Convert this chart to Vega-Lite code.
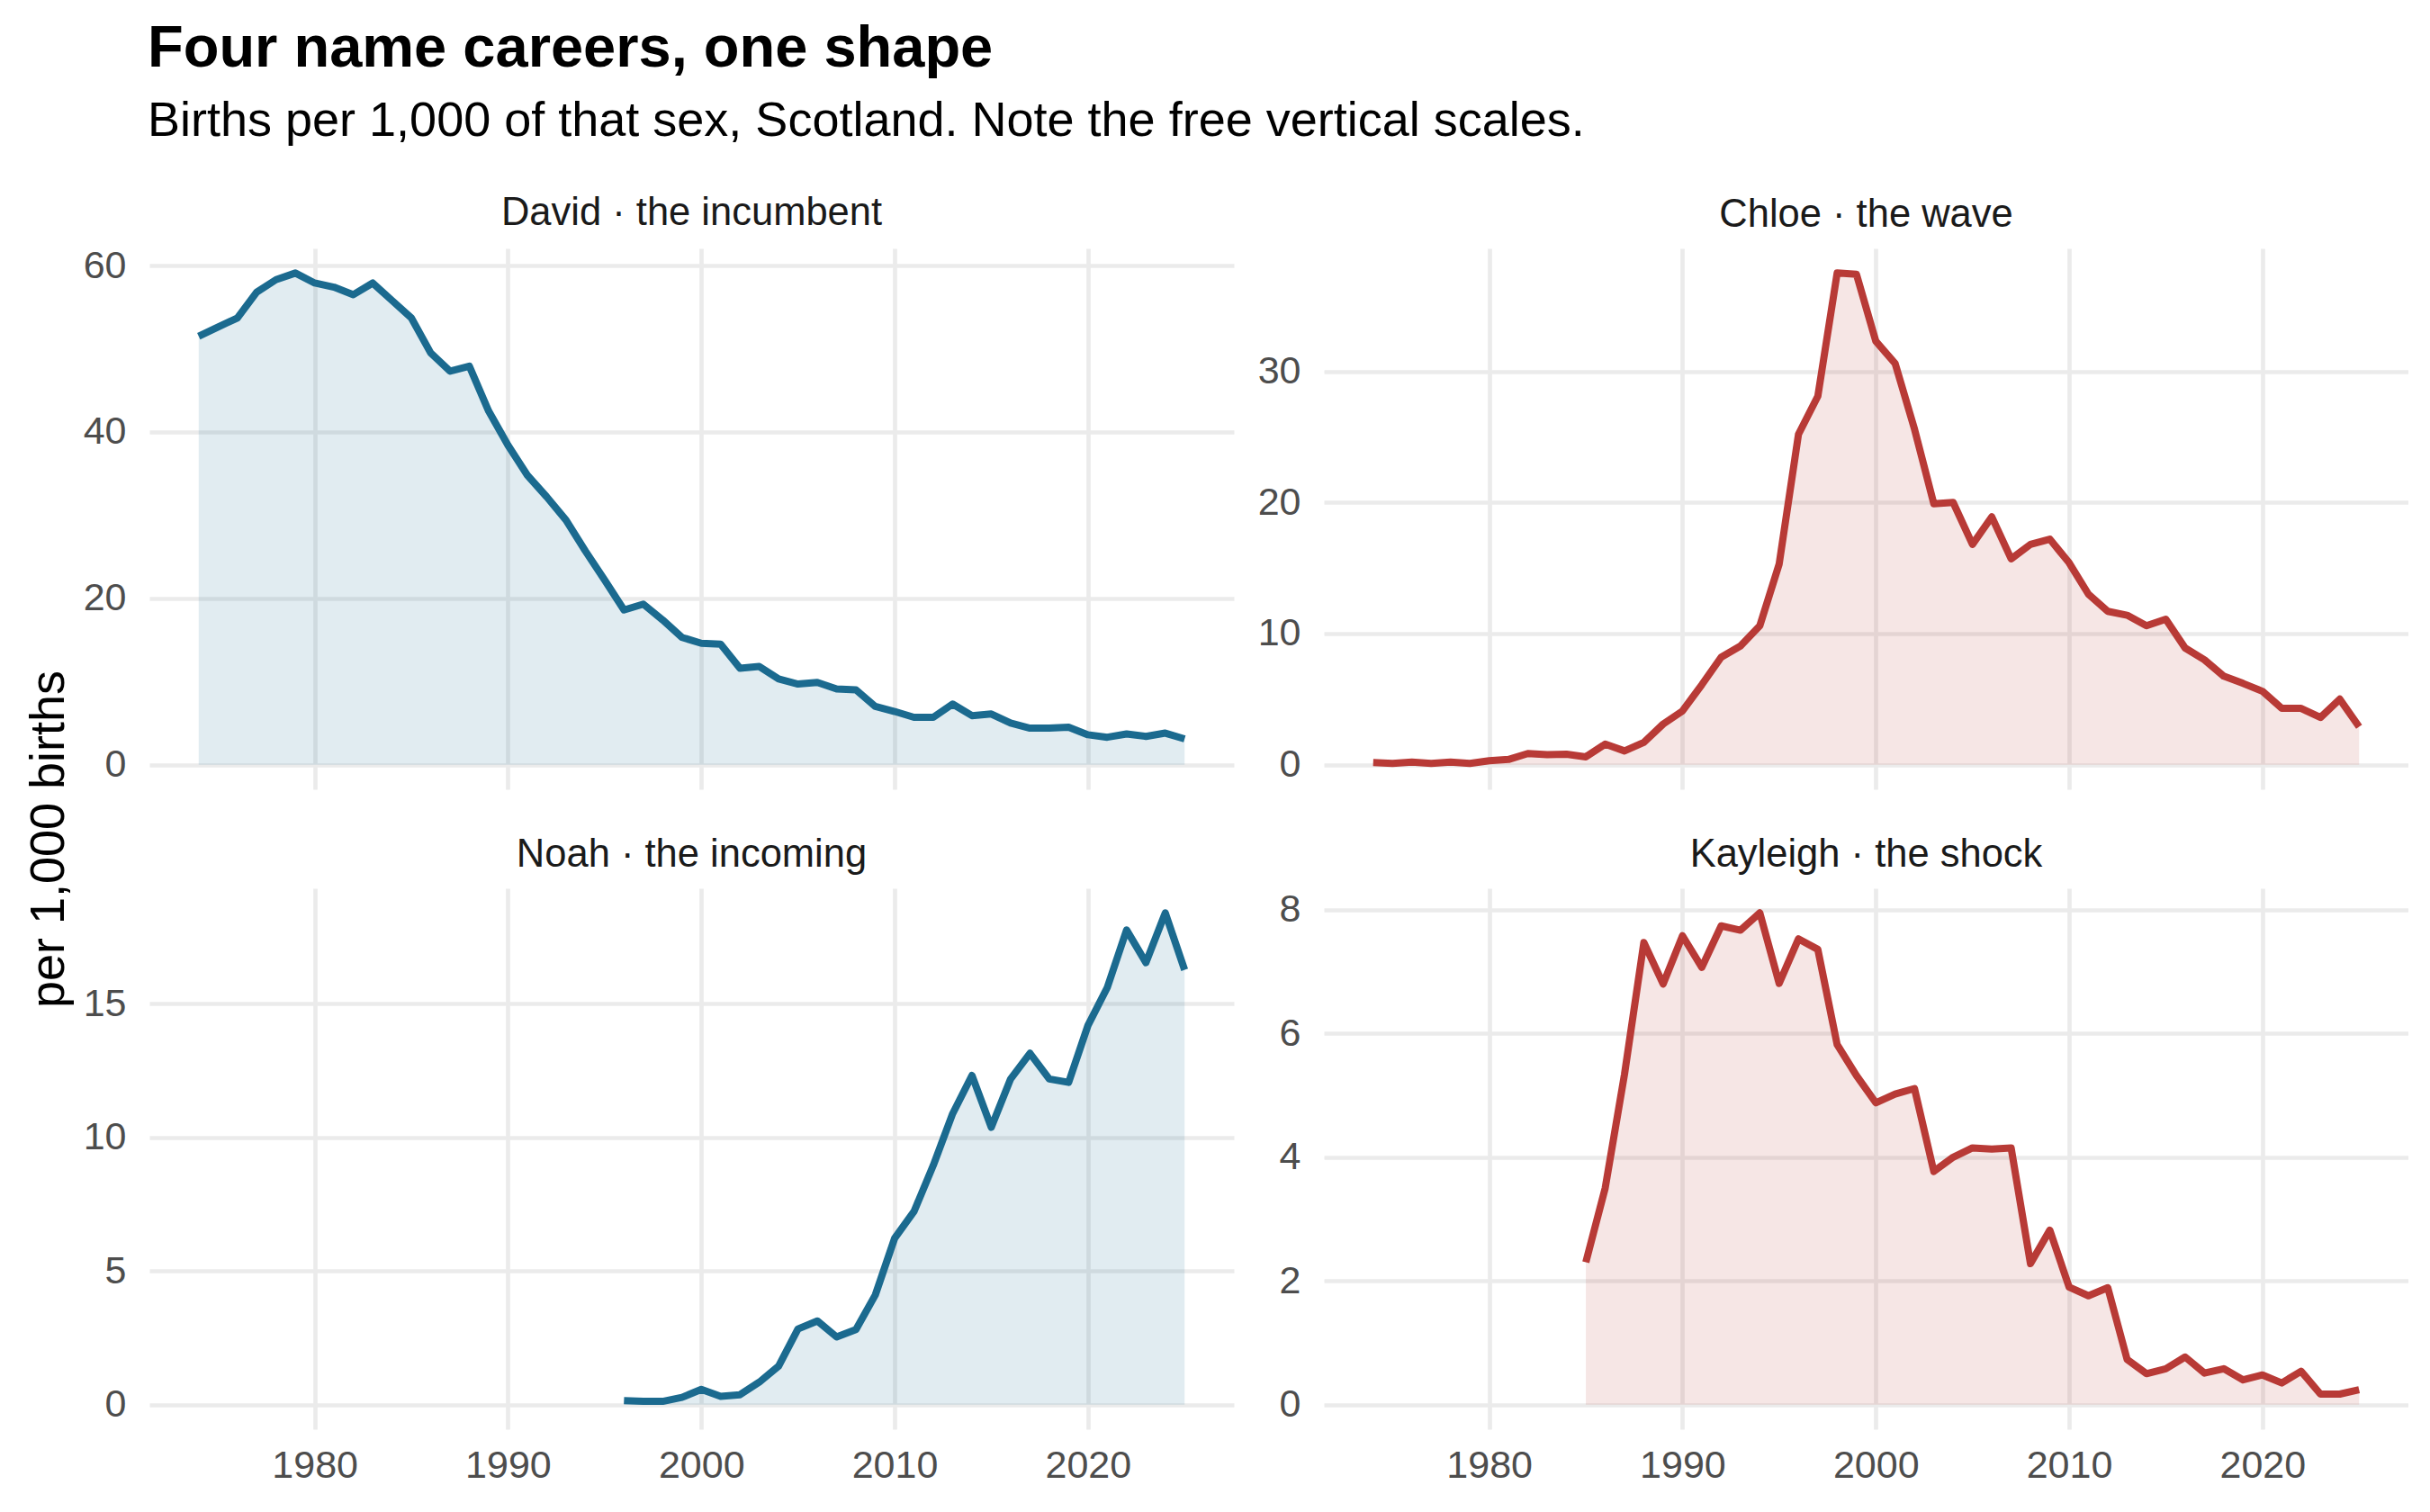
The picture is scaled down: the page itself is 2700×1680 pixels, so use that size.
{
  "$schema": "https://vega.github.io/schema/vega-lite/v6.json",
  "padding": {"left": 27, "top": 21, "right": 0, "bottom": 0},
  "title": {
    "text": "Four name careers, one shape",
    "subtitle": "Births per 1,000 of that sex, Scotland. Note the free vertical scales.",
    "anchor": "start",
    "frame": "bounds",
    "dx": 137,
    "fontSize": 65,
    "fontWeight": "bold",
    "color": "#000000",
    "subtitleFontSize": 54,
    "subtitleColor": "#000000",
    "subtitlePadding": 20,
    "offset": 52
  },
  "datasets": {
    "births": [
      {"name": "David", "year": 1974, "rate": 51.5},
      {"name": "David", "year": 1975, "rate": 52.6},
      {"name": "David", "year": 1976, "rate": 53.7},
      {"name": "David", "year": 1977, "rate": 56.8},
      {"name": "David", "year": 1978, "rate": 58.3},
      {"name": "David", "year": 1979, "rate": 59.1},
      {"name": "David", "year": 1980, "rate": 57.9},
      {"name": "David", "year": 1981, "rate": 57.4},
      {"name": "David", "year": 1982, "rate": 56.5},
      {"name": "David", "year": 1983, "rate": 57.9},
      {"name": "David", "year": 1984, "rate": 55.8},
      {"name": "David", "year": 1985, "rate": 53.7},
      {"name": "David", "year": 1986, "rate": 49.5},
      {"name": "David", "year": 1987, "rate": 47.3},
      {"name": "David", "year": 1988, "rate": 47.9},
      {"name": "David", "year": 1989, "rate": 42.5},
      {"name": "David", "year": 1990, "rate": 38.4},
      {"name": "David", "year": 1991, "rate": 34.8},
      {"name": "David", "year": 1992, "rate": 32.2},
      {"name": "David", "year": 1993, "rate": 29.4},
      {"name": "David", "year": 1994, "rate": 25.7},
      {"name": "David", "year": 1995, "rate": 22.2},
      {"name": "David", "year": 1996, "rate": 18.6},
      {"name": "David", "year": 1997, "rate": 19.3},
      {"name": "David", "year": 1998, "rate": 17.4},
      {"name": "David", "year": 1999, "rate": 15.3},
      {"name": "David", "year": 2000, "rate": 14.6},
      {"name": "David", "year": 2001, "rate": 14.5},
      {"name": "David", "year": 2002, "rate": 11.6},
      {"name": "David", "year": 2003, "rate": 11.8},
      {"name": "David", "year": 2004, "rate": 10.3},
      {"name": "David", "year": 2005, "rate": 9.7},
      {"name": "David", "year": 2006, "rate": 9.9},
      {"name": "David", "year": 2007, "rate": 9.1},
      {"name": "David", "year": 2008, "rate": 9.0},
      {"name": "David", "year": 2009, "rate": 7.0},
      {"name": "David", "year": 2010, "rate": 6.4},
      {"name": "David", "year": 2011, "rate": 5.7},
      {"name": "David", "year": 2012, "rate": 5.7},
      {"name": "David", "year": 2013, "rate": 7.3},
      {"name": "David", "year": 2014, "rate": 5.9},
      {"name": "David", "year": 2015, "rate": 6.1},
      {"name": "David", "year": 2016, "rate": 5.0},
      {"name": "David", "year": 2017, "rate": 4.4},
      {"name": "David", "year": 2018, "rate": 4.4},
      {"name": "David", "year": 2019, "rate": 4.5},
      {"name": "David", "year": 2020, "rate": 3.6},
      {"name": "David", "year": 2021, "rate": 3.3},
      {"name": "David", "year": 2022, "rate": 3.7},
      {"name": "David", "year": 2023, "rate": 3.4},
      {"name": "David", "year": 2024, "rate": 3.8},
      {"name": "David", "year": 2025, "rate": 3.1},
      {"name": "Chloe", "year": 1974, "rate": 0.16},
      {"name": "Chloe", "year": 1975, "rate": 0.1},
      {"name": "Chloe", "year": 1976, "rate": 0.2},
      {"name": "Chloe", "year": 1977, "rate": 0.1},
      {"name": "Chloe", "year": 1978, "rate": 0.2},
      {"name": "Chloe", "year": 1979, "rate": 0.1},
      {"name": "Chloe", "year": 1980, "rate": 0.3},
      {"name": "Chloe", "year": 1981, "rate": 0.4},
      {"name": "Chloe", "year": 1982, "rate": 0.85},
      {"name": "Chloe", "year": 1983, "rate": 0.76},
      {"name": "Chloe", "year": 1984, "rate": 0.8},
      {"name": "Chloe", "year": 1985, "rate": 0.6},
      {"name": "Chloe", "year": 1986, "rate": 1.57},
      {"name": "Chloe", "year": 1987, "rate": 1.05},
      {"name": "Chloe", "year": 1988, "rate": 1.7},
      {"name": "Chloe", "year": 1989, "rate": 3.1},
      {"name": "Chloe", "year": 1990, "rate": 4.1},
      {"name": "Chloe", "year": 1991, "rate": 6.1},
      {"name": "Chloe", "year": 1992, "rate": 8.2},
      {"name": "Chloe", "year": 1993, "rate": 9.05},
      {"name": "Chloe", "year": 1994, "rate": 10.6},
      {"name": "Chloe", "year": 1995, "rate": 15.3},
      {"name": "Chloe", "year": 1996, "rate": 25.2},
      {"name": "Chloe", "year": 1997, "rate": 28.1},
      {"name": "Chloe", "year": 1998, "rate": 37.5},
      {"name": "Chloe", "year": 1999, "rate": 37.4},
      {"name": "Chloe", "year": 2000, "rate": 32.3},
      {"name": "Chloe", "year": 2001, "rate": 30.6},
      {"name": "Chloe", "year": 2002, "rate": 25.6},
      {"name": "Chloe", "year": 2003, "rate": 19.9},
      {"name": "Chloe", "year": 2004, "rate": 20.0},
      {"name": "Chloe", "year": 2005, "rate": 16.8},
      {"name": "Chloe", "year": 2006, "rate": 18.9},
      {"name": "Chloe", "year": 2007, "rate": 15.7},
      {"name": "Chloe", "year": 2008, "rate": 16.8},
      {"name": "Chloe", "year": 2009, "rate": 17.2},
      {"name": "Chloe", "year": 2010, "rate": 15.4},
      {"name": "Chloe", "year": 2011, "rate": 13.0},
      {"name": "Chloe", "year": 2012, "rate": 11.7},
      {"name": "Chloe", "year": 2013, "rate": 11.4},
      {"name": "Chloe", "year": 2014, "rate": 10.6},
      {"name": "Chloe", "year": 2015, "rate": 11.1},
      {"name": "Chloe", "year": 2016, "rate": 8.9},
      {"name": "Chloe", "year": 2017, "rate": 8.0},
      {"name": "Chloe", "year": 2018, "rate": 6.75},
      {"name": "Chloe", "year": 2019, "rate": 6.2},
      {"name": "Chloe", "year": 2020, "rate": 5.6},
      {"name": "Chloe", "year": 2021, "rate": 4.3},
      {"name": "Chloe", "year": 2022, "rate": 4.3},
      {"name": "Chloe", "year": 2023, "rate": 3.6},
      {"name": "Chloe", "year": 2024, "rate": 5.0},
      {"name": "Chloe", "year": 2025, "rate": 2.9},
      {"name": "Noah", "year": 1996, "rate": 0.15},
      {"name": "Noah", "year": 1997, "rate": 0.12},
      {"name": "Noah", "year": 1998, "rate": 0.12},
      {"name": "Noah", "year": 1999, "rate": 0.27},
      {"name": "Noah", "year": 2000, "rate": 0.57},
      {"name": "Noah", "year": 2001, "rate": 0.31},
      {"name": "Noah", "year": 2002, "rate": 0.37},
      {"name": "Noah", "year": 2003, "rate": 0.84},
      {"name": "Noah", "year": 2004, "rate": 1.44},
      {"name": "Noah", "year": 2005, "rate": 2.83},
      {"name": "Noah", "year": 2006, "rate": 3.13},
      {"name": "Noah", "year": 2007, "rate": 2.53},
      {"name": "Noah", "year": 2008, "rate": 2.81},
      {"name": "Noah", "year": 2009, "rate": 4.1},
      {"name": "Noah", "year": 2010, "rate": 6.22},
      {"name": "Noah", "year": 2011, "rate": 7.22},
      {"name": "Noah", "year": 2012, "rate": 8.95},
      {"name": "Noah", "year": 2013, "rate": 10.88},
      {"name": "Noah", "year": 2014, "rate": 12.31},
      {"name": "Noah", "year": 2015, "rate": 10.37},
      {"name": "Noah", "year": 2016, "rate": 12.18},
      {"name": "Noah", "year": 2017, "rate": 13.14},
      {"name": "Noah", "year": 2018, "rate": 12.18},
      {"name": "Noah", "year": 2019, "rate": 12.05},
      {"name": "Noah", "year": 2020, "rate": 14.18},
      {"name": "Noah", "year": 2021, "rate": 15.6},
      {"name": "Noah", "year": 2022, "rate": 17.75},
      {"name": "Noah", "year": 2023, "rate": 16.53},
      {"name": "Noah", "year": 2024, "rate": 18.39},
      {"name": "Noah", "year": 2025, "rate": 16.26},
      {"name": "Kayleigh", "year": 1985, "rate": 2.3},
      {"name": "Kayleigh", "year": 1986, "rate": 3.5},
      {"name": "Kayleigh", "year": 1987, "rate": 5.34},
      {"name": "Kayleigh", "year": 1988, "rate": 7.47},
      {"name": "Kayleigh", "year": 1989, "rate": 6.8},
      {"name": "Kayleigh", "year": 1990, "rate": 7.58},
      {"name": "Kayleigh", "year": 1991, "rate": 7.07},
      {"name": "Kayleigh", "year": 1992, "rate": 7.74},
      {"name": "Kayleigh", "year": 1993, "rate": 7.67},
      {"name": "Kayleigh", "year": 1994, "rate": 7.95},
      {"name": "Kayleigh", "year": 1995, "rate": 6.81},
      {"name": "Kayleigh", "year": 1996, "rate": 7.53},
      {"name": "Kayleigh", "year": 1997, "rate": 7.36},
      {"name": "Kayleigh", "year": 1998, "rate": 5.82},
      {"name": "Kayleigh", "year": 1999, "rate": 5.32},
      {"name": "Kayleigh", "year": 2000, "rate": 4.88},
      {"name": "Kayleigh", "year": 2001, "rate": 5.02},
      {"name": "Kayleigh", "year": 2002, "rate": 5.11},
      {"name": "Kayleigh", "year": 2003, "rate": 3.77},
      {"name": "Kayleigh", "year": 2004, "rate": 4.0},
      {"name": "Kayleigh", "year": 2005, "rate": 4.15},
      {"name": "Kayleigh", "year": 2006, "rate": 4.13},
      {"name": "Kayleigh", "year": 2007, "rate": 4.15},
      {"name": "Kayleigh", "year": 2008, "rate": 2.28},
      {"name": "Kayleigh", "year": 2009, "rate": 2.82},
      {"name": "Kayleigh", "year": 2010, "rate": 1.9},
      {"name": "Kayleigh", "year": 2011, "rate": 1.76},
      {"name": "Kayleigh", "year": 2012, "rate": 1.89},
      {"name": "Kayleigh", "year": 2013, "rate": 0.73},
      {"name": "Kayleigh", "year": 2014, "rate": 0.5},
      {"name": "Kayleigh", "year": 2015, "rate": 0.58},
      {"name": "Kayleigh", "year": 2016, "rate": 0.77},
      {"name": "Kayleigh", "year": 2017, "rate": 0.51},
      {"name": "Kayleigh", "year": 2018, "rate": 0.58},
      {"name": "Kayleigh", "year": 2019, "rate": 0.4},
      {"name": "Kayleigh", "year": 2020, "rate": 0.48},
      {"name": "Kayleigh", "year": 2021, "rate": 0.35},
      {"name": "Kayleigh", "year": 2022, "rate": 0.54},
      {"name": "Kayleigh", "year": 2023, "rate": 0.17},
      {"name": "Kayleigh", "year": 2024, "rate": 0.17},
      {"name": "Kayleigh", "year": 2025, "rate": 0.24}
    ]
  },
  "data": {"name": "births"},
  "columns": 2,
  "spacing": {"row": 110, "column": 100},
  "bounds": "flush",
  "concat": [
    {
      "width": 1205,
      "height": 601,
      "title": {"text": "David · the incumbent"},
      "transform": [{"filter": "datum.name === 'David'"}],
      "encoding": {
        "x": {"field": "year", "type": "quantitative", "scale": {"domain": [1971.45, 2027.55], "nice": false, "zero": false}, "axis": {"values": [1980, 1990, 2000, 2010, 2020], "labels": false, "title": null}},
        "y": {"field": "rate", "type": "quantitative", "scale": {"domain": [-2.955, 62.06], "nice": false, "zero": false}, "axis": {"values": [0, 20, 40, 60], "title": "per 1,000 births", "titleX": -96, "titleY": 656, "titleAngle": 270, "titleBaseline": "alphabetic", "titleAlign": "center"}}
      },
      "layer": [
        {"mark": {"type": "area", "color": "#1B6A8F", "opacity": 0.13}, "encoding": {"y2": {"datum": 0}}},
        {"mark": {"type": "line", "color": "#1B6A8F", "strokeWidth": 8, "strokeJoin": "round", "strokeCap": "butt"}}
      ]
    },
    {
      "width": 1205,
      "height": 601,
      "title": {"text": "Chloe · the wave"},
      "transform": [{"filter": "datum.name === 'Chloe'"}],
      "encoding": {
        "x": {"field": "year", "type": "quantitative", "scale": {"domain": [1971.45, 2027.55], "nice": false, "zero": false}, "axis": {"values": [1980, 1990, 2000, 2010, 2020], "labels": false, "title": null}},
        "y": {"field": "rate", "type": "quantitative", "scale": {"domain": [-1.875, 39.375], "nice": false, "zero": false}, "axis": {"values": [0, 10, 20, 30], "title": null}}
      },
      "layer": [
        {"mark": {"type": "area", "color": "#B83A36", "opacity": 0.13}, "encoding": {"y2": {"datum": 0}}},
        {"mark": {"type": "line", "color": "#B83A36", "strokeWidth": 8, "strokeJoin": "round", "strokeCap": "butt"}}
      ]
    },
    {
      "width": 1205,
      "height": 601,
      "title": {"text": "Noah · the incoming"},
      "transform": [{"filter": "datum.name === 'Noah'"}],
      "encoding": {
        "x": {"field": "year", "type": "quantitative", "scale": {"domain": [1971.45, 2027.55], "nice": false, "zero": false}, "axis": {"values": [1980, 1990, 2000, 2010, 2020], "format": "d", "title": null, "labelPadding": 19}},
        "y": {"field": "rate", "type": "quantitative", "scale": {"domain": [-0.92, 19.31], "nice": false, "zero": false}, "axis": {"values": [0, 5, 10, 15], "title": null}}
      },
      "layer": [
        {"mark": {"type": "area", "color": "#1B6A8F", "opacity": 0.13}, "encoding": {"y2": {"datum": 0}}},
        {"mark": {"type": "line", "color": "#1B6A8F", "strokeWidth": 8, "strokeJoin": "round", "strokeCap": "butt"}}
      ]
    },
    {
      "width": 1205,
      "height": 601,
      "title": {"text": "Kayleigh · the shock"},
      "transform": [{"filter": "datum.name === 'Kayleigh'"}],
      "encoding": {
        "x": {"field": "year", "type": "quantitative", "scale": {"domain": [1971.45, 2027.55], "nice": false, "zero": false}, "axis": {"values": [1980, 1990, 2000, 2010, 2020], "format": "d", "title": null, "labelPadding": 19}},
        "y": {"field": "rate", "type": "quantitative", "scale": {"domain": [-0.3975, 8.3475], "nice": false, "zero": false}, "axis": {"values": [0, 2, 4, 6, 8], "title": null}}
      },
      "layer": [
        {"mark": {"type": "area", "color": "#B83A36", "opacity": 0.13}, "encoding": {"y2": {"datum": 0}}},
        {"mark": {"type": "line", "color": "#B83A36", "strokeWidth": 8, "strokeJoin": "round", "strokeCap": "butt"}}
      ]
    }
  ],
  "config": {
    "font": "Liberation Sans",
    "view": {"stroke": null},
    "background": "#FFFFFF",
    "axis": {
      "domain": false,
      "ticks": false,
      "tickSize": 0,
      "grid": true,
      "gridColor": "#EBEBEB",
      "gridWidth": 4.7,
      "labelFont": "Liberation Sans",
      "labelFontSize": 43,
      "labelColor": "#4D4D4D",
      "labelPadding": 26,
      "titleFont": "Liberation Sans",
      "titleFontSize": 54,
      "titleFontWeight": "normal",
      "titleColor": "#000000"
    },
    "title": {
      "font": "Liberation Sans",
      "fontSize": 43.5,
      "fontWeight": "normal",
      "color": "#1A1A1A",
      "anchor": "middle",
      "offset": 15
    }
  }
}
